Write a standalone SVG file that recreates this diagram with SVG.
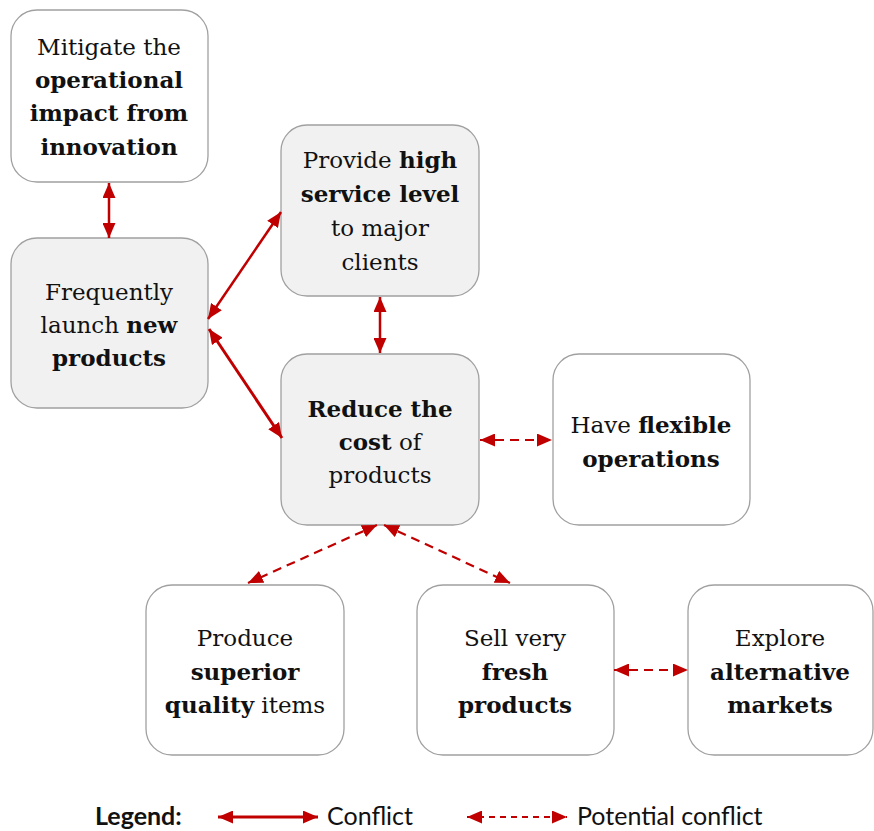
<svg xmlns="http://www.w3.org/2000/svg" width="874" height="831" viewBox="0 0 874 831">
<style>
.box{stroke:#a0a0a0;stroke-width:1.3}
.w{fill:#ffffff}
.g{fill:#f1f1f1}
.t{font-family:"DejaVu Serif","Liberation Serif",serif;font-size:23px;fill:#111;text-anchor:middle}
.b{font-weight:bold}
.c{stroke:#c00000;fill:none}
.s{stroke-width:2.5}
.d{stroke-width:2.2;stroke-dasharray:9 6}
.lg{font-family:"Lato","Liberation Sans",sans-serif;font-size:25px;fill:#111}
</style>
<defs>
<marker id="ah" viewBox="0 0 15 13" refX="15" refY="6.5" markerWidth="15" markerHeight="13" markerUnits="userSpaceOnUse" orient="auto-start-reverse">
<path d="M0,0 L15,6.5 L0,13 Z" fill="#c00000"/>
</marker>
</defs>
<rect width="874" height="831" fill="#ffffff"/>
<g id="n1"><rect class="box w" x="11" y="10" width="197" height="172" rx="26"/>
<text class="t" x="109" y="55">Mitigate the</text>
<text class="t b" x="109" y="88">operational</text>
<text class="t b" x="109" y="121">impact from</text>
<text class="t b" x="109" y="155">innovation</text></g>
<g id="n2"><rect class="box g" x="11" y="238" width="197" height="170" rx="26"/>
<text class="t" x="109" y="300">Frequently</text>
<text class="t" x="109" y="333">launch <tspan class="b">new</tspan></text>
<text class="t b" x="109" y="366">products</text></g>
<g id="n3"><rect class="box g" x="281" y="125" width="198" height="171" rx="26"/>
<text class="t" x="380" y="168">Provide <tspan class="b">high</tspan></text>
<text class="t b" x="380" y="202">service level</text>
<text class="t" x="380" y="236">to major</text>
<text class="t" x="380" y="270">clients</text></g>
<g id="n4"><rect class="box g" x="281" y="354" width="198" height="171" rx="26"/>
<text class="t b" x="380" y="417">Reduce the</text>
<text class="t" x="380" y="450"><tspan class="b">cost</tspan> of</text>
<text class="t" x="380" y="483">products</text></g>
<g id="n5"><rect class="box w" x="553" y="354" width="197" height="171" rx="26"/>
<text class="t" x="651" y="433">Have <tspan class="b">flexible</tspan></text>
<text class="t b" x="651" y="467">operations</text></g>
<g id="n6"><rect class="box w" x="146" y="585" width="198" height="170" rx="26"/>
<text class="t" x="245" y="646">Produce</text>
<text class="t b" x="245" y="680">superior</text>
<text class="t" x="245" y="713"><tspan class="b">quality</tspan> items</text></g>
<g id="n7"><rect class="box w" x="417" y="585" width="197" height="170" rx="26"/>
<text class="t" x="515" y="646">Sell very</text>
<text class="t b" x="515" y="680">fresh</text>
<text class="t b" x="515" y="713">products</text></g>
<g id="n8"><rect class="box w" x="688" y="585" width="185" height="170" rx="26"/>
<text class="t" x="780" y="646">Explore</text>
<text class="t b" x="780" y="680">alternative</text>
<text class="t b" x="780" y="713">markets</text></g>
<g id="connectors">
<line class="c s" x1="109" y1="183" x2="109" y2="238" marker-start="url(#ah)" marker-end="url(#ah)"/>
<line class="c s" x1="208" y1="319" x2="281" y2="212" marker-start="url(#ah)" marker-end="url(#ah)"/>
<line class="c s" style="stroke-width:3" x1="209" y1="329" x2="282" y2="438" marker-start="url(#ah)" marker-end="url(#ah)"/>
<line class="c s" x1="380" y1="297" x2="380" y2="353" marker-start="url(#ah)" marker-end="url(#ah)"/>
<line class="c d" x1="480" y1="440" x2="552" y2="440" marker-start="url(#ah)" marker-end="url(#ah)"/>
<line class="c d" x1="377" y1="525" x2="248" y2="583" marker-start="url(#ah)" marker-end="url(#ah)"/>
<line class="c d" x1="384" y1="525" x2="510" y2="583" marker-start="url(#ah)" marker-end="url(#ah)"/>
<line class="c d" x1="614" y1="670" x2="688" y2="670" marker-start="url(#ah)" marker-end="url(#ah)"/>
</g>
<g id="legend">
<text class="lg" x="95" y="825" font-weight="bold">Legend:</text>
<line class="c s" style="stroke-width:3" x1="218" y1="817" x2="318" y2="817" marker-start="url(#ah)" marker-end="url(#ah)"/>
<text class="lg" x="327" y="825">Conflict</text>
<line class="c d" style="stroke-dasharray:6 5" x1="467" y1="817" x2="567" y2="817" marker-start="url(#ah)" marker-end="url(#ah)"/>
<text class="lg" x="577" y="825">Potential conflict</text>
</g>
</svg>
